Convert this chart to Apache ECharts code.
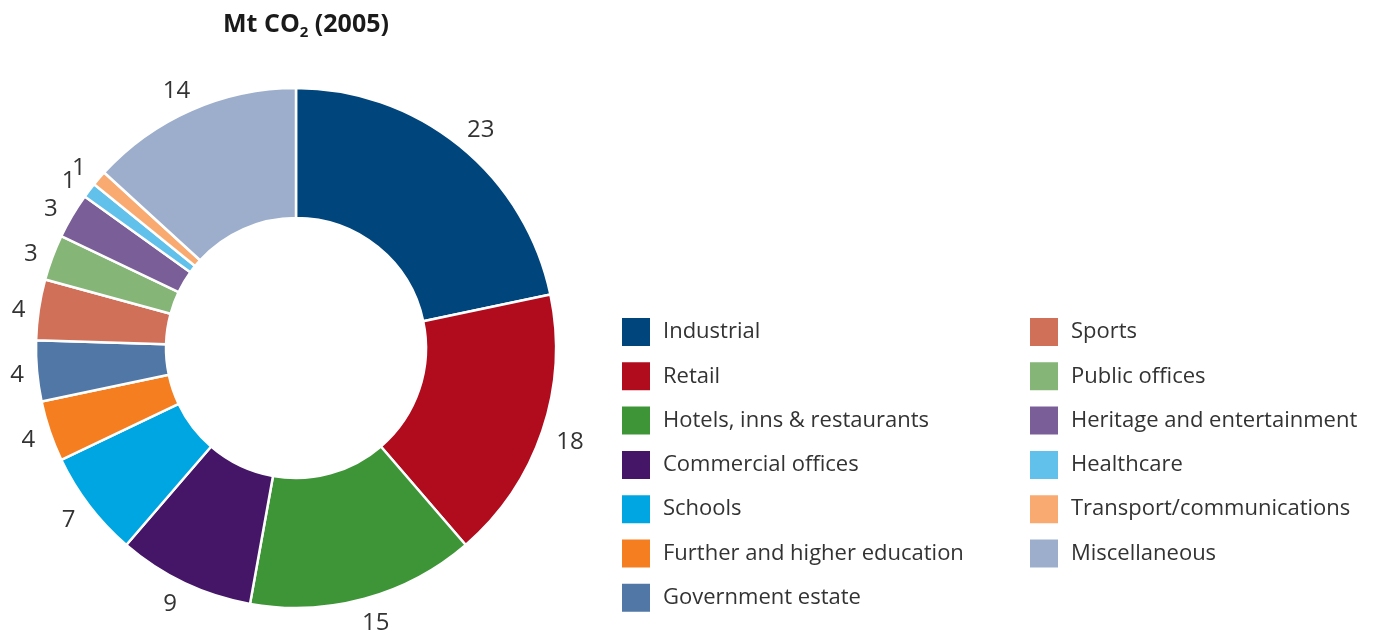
<!DOCTYPE html>
<html>
<head>
<meta charset="utf-8">
<script src="https://cdn.jsdelivr.net/npm/echarts@6/dist/echarts.min.js"></script>
<style>html,body{margin:0;padding:0;background:#fff}#c{width:1374px;height:639px}</style>
</head>
<body>
<div id="c"></div>
<script>
const categories = ["Industrial","Retail","Hotels, inns & restaurants","Commercial offices","Schools","Further and higher education","Government estate","Sports","Public offices","Heritage and entertainment","Healthcare","Transport/communications","Miscellaneous"];
const values = [23,18,15,9,7,4,4,4,3,3,1,1,14];
const colors = ["#00457c","#b10c1d","#3e9537","#451667","#00a6e2","#f47e20","#5177a6","#d07058","#86b578","#7a5e97","#61c1ea","#f9aa70","#9caecc"];
const FONT = "Open Sans";
const CX = 296, CY = 348;
const chart = echarts.init(document.getElementById('c'));
const data = categories.map((n,i)=>({name:n,value:values[i],itemStyle:{color:colors[i]}}));
const legendBase = {
  orient:'vertical', itemWidth:30, itemHeight:30, itemGap:12.3, icon:'rect', padding:0,
  selectedMode:false,
  textStyle:{fontFamily:FONT,fontSize:22,color:'#333',padding:[0,0,0,7]}
};
// push each outside label so that its box just touches the anchor circle
function pushOut(p){
  const r = p.labelRect;
  const rightSide = r.x + r.width/2 > CX;
  const ax = rightSide ? r.x : r.x + r.width;
  const ay = r.y + r.height/2;
  let ux = ax - CX, uy = ay - CY;
  const n = Math.sqrt(ux*ux + uy*uy) || 1;
  ux /= n; uy /= n;
  const s = (r.width/2)*Math.abs(ux) + (r.height/2)*Math.abs(uy);
  return {dx: ux*s - (rightSide ? r.width/2 : -r.width/2), dy: uy*s + 3};
}
chart.setOption({
  animation:false,
  title:{
    text:'{a|Mt CO}{b|2}{a| (2005)}',
    left:301, top:4, textAlign:'center',
    textStyle:{rich:{
      a:{fontFamily:FONT,fontSize:25,fontWeight:'bold',color:'#1a1a1a'},
      b:{fontFamily:FONT,fontSize:15,fontWeight:'bold',color:'#1a1a1a',padding:[16,0,0,0]}
    }}
  },
  legend:[
    Object.assign({},legendBase,{left:620,top:316,data:categories.slice(0,7)}),
    Object.assign({},legendBase,{left:1028,top:316,data:categories.slice(7)})
  ],
  series:[{
    type:'pie',
    center:[CX,CY],
    radius:[130,260],
    startAngle:90,
    clockwise:true,
    avoidLabelOverlap:false,
    itemStyle:{borderColor:'#fff',borderWidth:2.5},
    label:{show:true,position:'outside',fontFamily:FONT,fontSize:24,color:'#333',formatter:'{c}',bleedMargin:0,overflow:'none'},
    labelLine:{show:false,length:7,length2:0},
    labelLayout:pushOut,
    emphasis:{disabled:true},
    data:data
  }]
});
</script>
</body>
</html>
